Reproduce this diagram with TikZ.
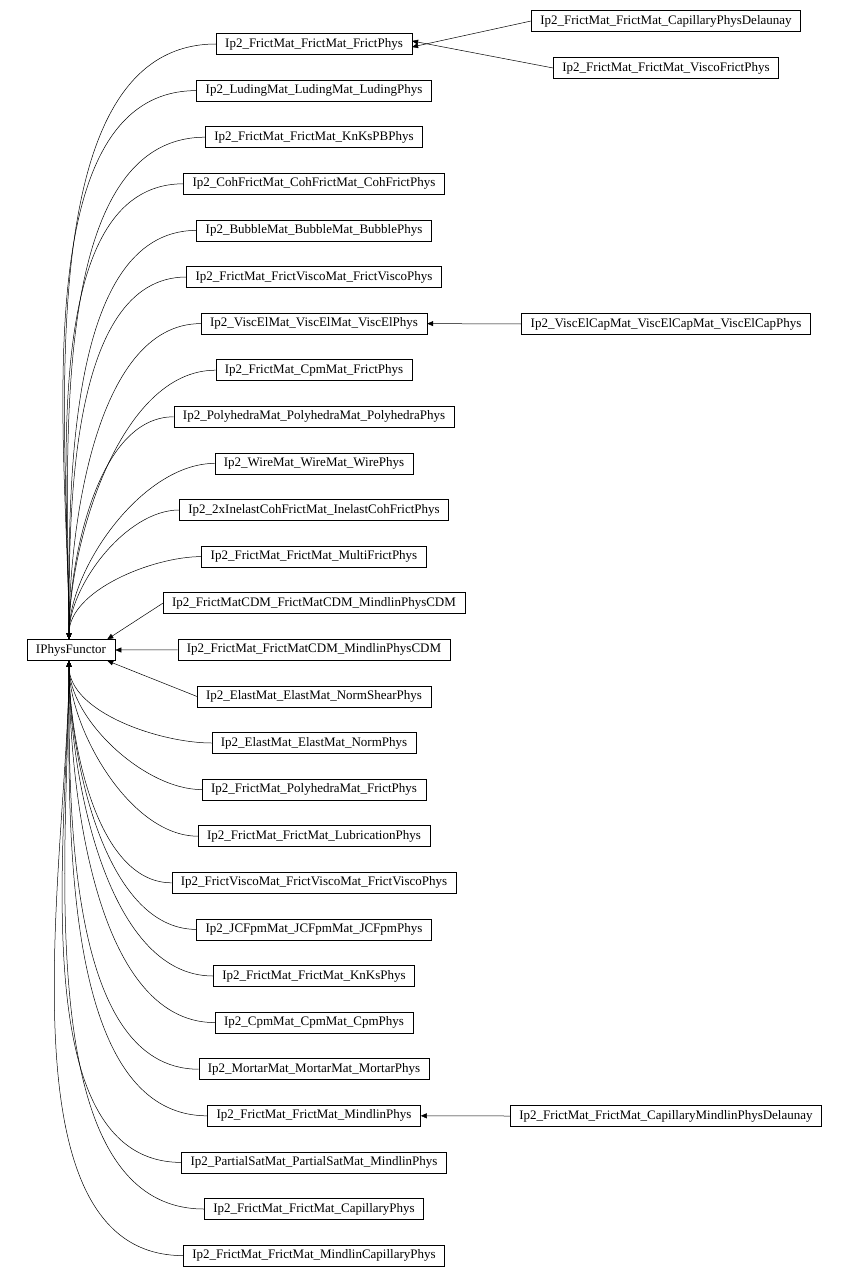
\documentclass[tikz,border=0pt]{standalone}
\usepackage{fontspec}
\setmainfont{Liberation Serif}
\usetikzlibrary{arrows.meta}
\begin{document}
\begin{tikzpicture}[
	x=1pt, y=-1pt,
	cls/.style={draw, rectangle, line width=0.5pt, minimum height=21pt, inner xsep=9pt, inner ysep=0pt, font=\fontsize{13}{14}\selectfont},
	edge/.style={-{Triangle[length=6pt, width=5pt]}, line width=0.5pt}
	]
	\useasboundingbox (0,0) rectangle (846,1279);
	
	% Base class
	\node[cls] (ipf) at (71,650) {IPhysFunctor};
	
	% Derived classes (middle column)
	\foreach \n/\t in {
		1/Ip2\_FrictMat\_FrictMat\_FrictPhys,
		2/Ip2\_LudingMat\_LudingMat\_LudingPhys,
		3/Ip2\_FrictMat\_FrictMat\_KnKsPBPhys,
		4/Ip2\_CohFrictMat\_CohFrictMat\_CohFrictPhys,
		5/Ip2\_BubbleMat\_BubbleMat\_BubblePhys,
		6/Ip2\_FrictMat\_FrictViscoMat\_FrictViscoPhys,
		7/Ip2\_ViscElMat\_ViscElMat\_ViscElPhys,
		8/Ip2\_FrictMat\_CpmMat\_FrictPhys,
		9/Ip2\_PolyhedraMat\_PolyhedraMat\_PolyhedraPhys,
		10/Ip2\_WireMat\_WireMat\_WirePhys,
		11/Ip2\_2xInelastCohFrictMat\_InelastCohFrictPhys,
		12/Ip2\_FrictMat\_FrictMat\_MultiFrictPhys,
		13/Ip2\_FrictMatCDM\_FrictMatCDM\_MindlinPhysCDM,
		14/Ip2\_FrictMat\_FrictMatCDM\_MindlinPhysCDM,
		15/Ip2\_ElastMat\_ElastMat\_NormShearPhys,
		16/Ip2\_ElastMat\_ElastMat\_NormPhys,
		17/Ip2\_FrictMat\_PolyhedraMat\_FrictPhys,
		18/Ip2\_FrictMat\_FrictMat\_LubricationPhys,
		19/Ip2\_FrictViscoMat\_FrictViscoMat\_FrictViscoPhys,
		20/Ip2\_JCFpmMat\_JCFpmMat\_JCFpmPhys,
		21/Ip2\_FrictMat\_FrictMat\_KnKsPhys,
		22/Ip2\_CpmMat\_CpmMat\_CpmPhys,
		23/Ip2\_MortarMat\_MortarMat\_MortarPhys,
		24/Ip2\_FrictMat\_FrictMat\_MindlinPhys,
		25/Ip2\_PartialSatMat\_PartialSatMat\_MindlinPhys,
		26/Ip2\_FrictMat\_FrictMat\_CapillaryPhys,
		27/Ip2\_FrictMat\_FrictMat\_MindlinCapillaryPhys}
		\node[cls] (c\n) at (314,{44+(\n-1)*46.6}) {\t};
	
	% Derived classes (right column)
	\node[cls] (capdel) at (666,21) {Ip2\_FrictMat\_FrictMat\_CapillaryPhysDelaunay};
	\node[cls] (viscofrict) at (666,68) {Ip2\_FrictMat\_FrictMat\_ViscoFrictPhys};
	\node[cls] (viscelcap) at (666,324) {Ip2\_ViscElCapMat\_ViscElCapMat\_ViscElCapPhys};
	\node[cls] (capmindel) at (666,1116) {Ip2\_FrictMat\_FrictMat\_CapillaryMindlinPhysDelaunay};
	
	% Inheritance to IPhysFunctor
	\foreach \n in {1,...,12}
		\draw[edge] (c\n.west) to[out=180, in=90, looseness=0.8] ([xshift=-2pt]ipf.north);
	\draw[edge] (c13.west) -- ([xshift=-8pt]ipf.north east);
	\draw[edge] (c14.west) -- (ipf.east);
	\draw[edge] (c15.west) -- ([xshift=-8pt]ipf.south east);
	\foreach \n in {16,...,27}
		\draw[edge] (c\n.west) to[out=180, in=-90, looseness=0.8] ([xshift=-2pt]ipf.south);
	
	% Second level
	\draw[edge] (capdel.west) -- ([yshift=-3pt]c1.east);
	\draw[edge] (viscofrict.west) -- ([yshift=3pt]c1.east);
	\draw[edge] (viscelcap.west) -- (c7.east);
	\draw[edge] (capmindel.west) -- (c24.east);
\end{tikzpicture}
\end{document}
